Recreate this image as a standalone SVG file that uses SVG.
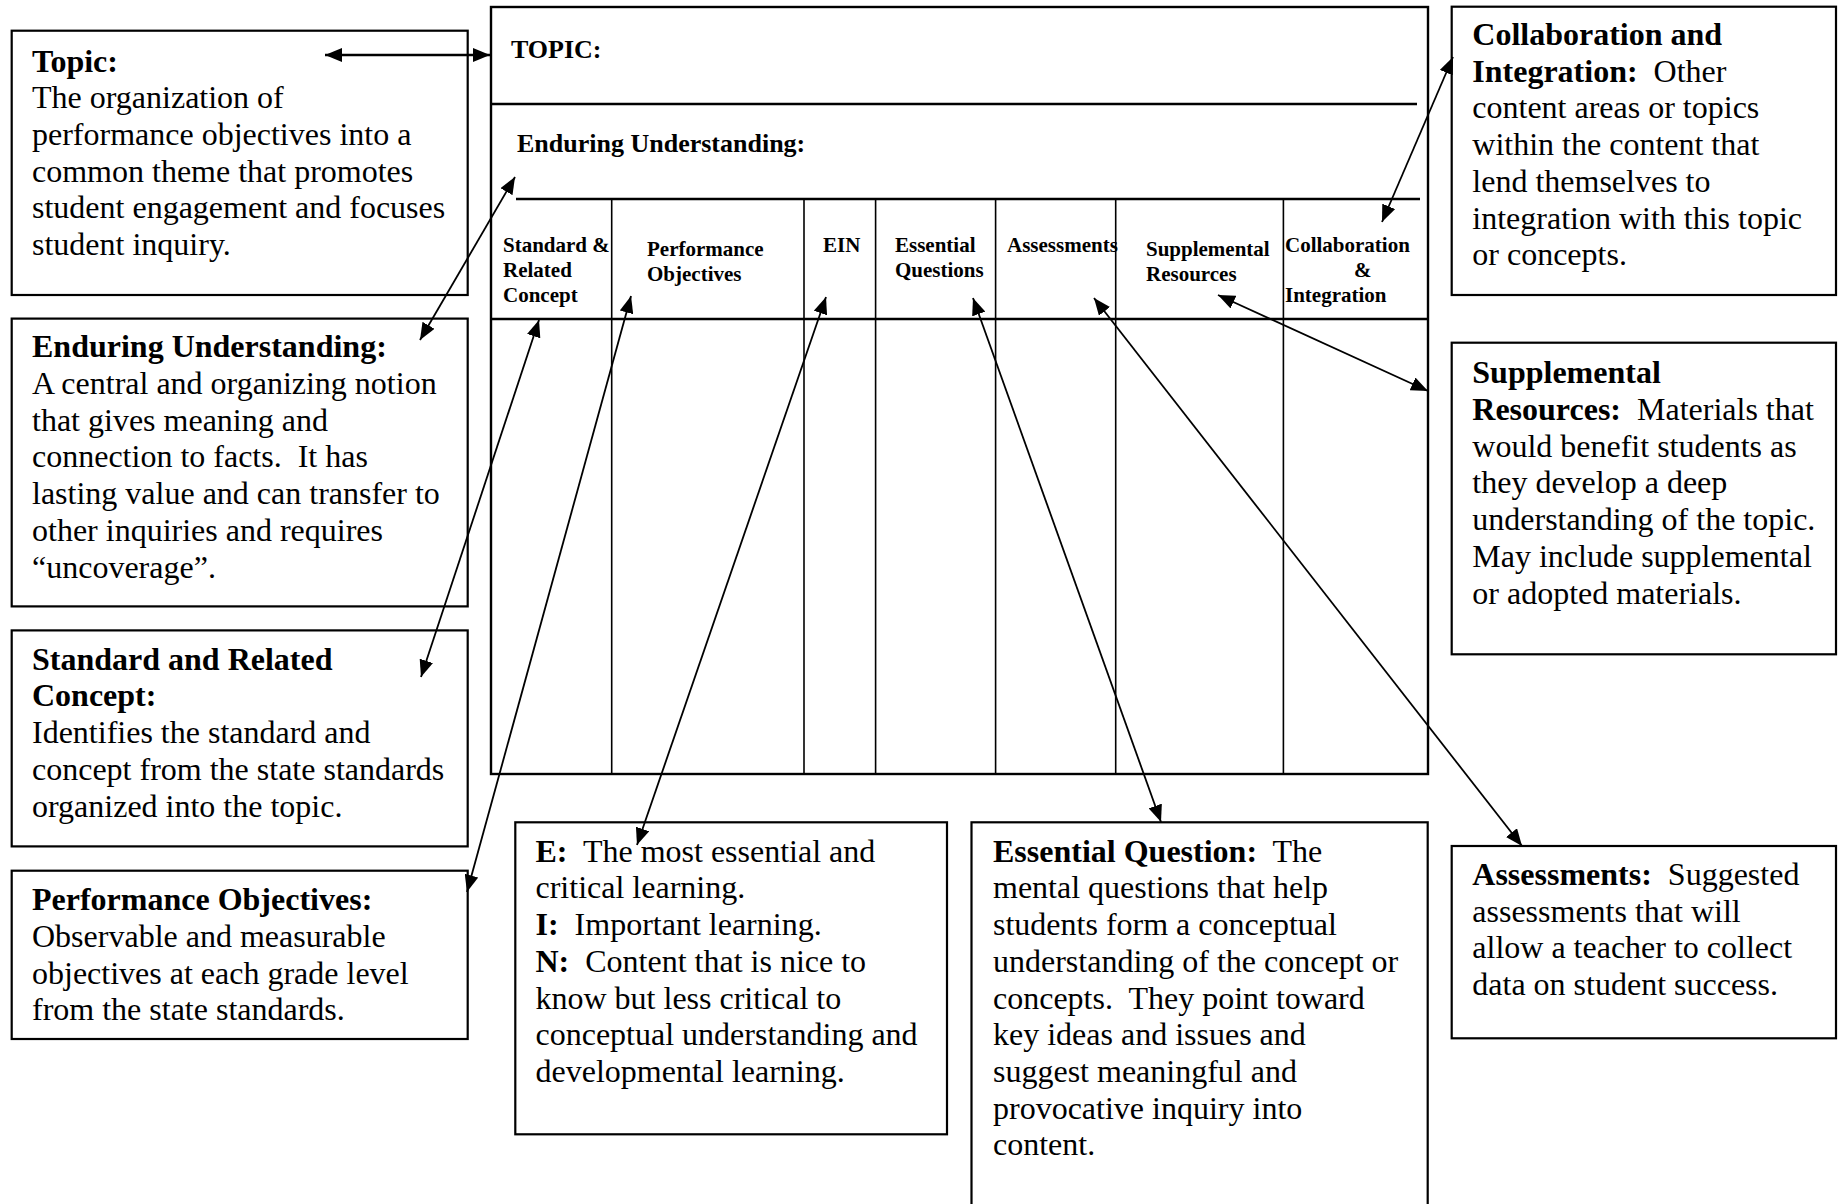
<svg xmlns="http://www.w3.org/2000/svg" width="1841" height="1204" viewBox="0 0 1841 1204">
<style>
.box{fill:#fff;stroke:#000;stroke-width:2.2}
.tx{font-family:"Liberation Serif","Times New Roman",serif;font-size:32px;fill:#000;white-space:pre}
.bd{font-weight:bold}
.hd{font-family:"Liberation Serif","Times New Roman",serif;font-size:21px;font-weight:bold;fill:#000;white-space:pre}
.ht{font-family:"Liberation Serif","Times New Roman",serif;font-size:26px;font-weight:bold;fill:#000}
.tl{stroke:#000;fill:none;stroke-width:2.4}
.cd{stroke:#000;fill:none;stroke-width:1.6}
.ar{stroke:#000;stroke-width:1.8;fill:none;marker-start:url(#ah);marker-end:url(#ah)}
</style>
<defs>
<marker id="ah" viewBox="0 0 17 14" refX="17" refY="7" markerWidth="17" markerHeight="14" markerUnits="userSpaceOnUse" orient="auto-start-reverse"><path d="M0,0L17,7L0,14z" fill="#000"/></marker>
</defs>
<rect width="1841" height="1204" fill="#fff"/>

<g id="table">
<rect x="491" y="7" width="937" height="767" fill="#fff" stroke="#000" stroke-width="2.4"/>
<line class="tl" x1="491" y1="104" x2="1417" y2="104"/>
<line class="tl" x1="516" y1="199" x2="1420" y2="199"/>
<line class="tl" x1="491" y1="319" x2="1428" y2="319"/>
<line class="cd" x1="611.7" y1="199" x2="611.7" y2="774"/>
<line class="cd" x1="804" y1="199" x2="804" y2="774"/>
<line class="cd" x1="875.6" y1="199" x2="875.6" y2="774"/>
<line class="cd" x1="995.6" y1="199" x2="995.6" y2="774"/>
<line class="cd" x1="1115.7" y1="199" x2="1115.7" y2="774"/>
<line class="cd" x1="1283.4" y1="199" x2="1283.4" y2="774"/>
<text class="ht" x="511" y="58">TOPIC:</text>
<text class="ht" x="517" y="152">Enduring Understanding:</text>
<text class="hd" x="503" y="252">Standard &amp;</text>
<text class="hd" x="503" y="277">Related</text>
<text class="hd" x="503" y="302">Concept</text>
<text class="hd" x="647" y="256">Performance</text>
<text class="hd" x="647" y="281">Objectives</text>
<text class="hd" x="823" y="252">EIN</text>
<text class="hd" x="895" y="252">Essential</text>
<text class="hd" x="895" y="277">Questions</text>
<text class="hd" x="1007" y="252">Assessments</text>
<text class="hd" x="1146" y="256">Supplemental</text>
<text class="hd" x="1146" y="281">Resources</text>
<text class="hd" x="1285" y="252">Collaboration</text>
<text class="hd" x="1354" y="277">&amp;</text>
<text class="hd" x="1285" y="302">Integration</text>
</g>

<g id="topic">
<rect class="box" x="11.7" y="30.7" width="456" height="264.3"/>
<text class="tx bd" x="32" y="71.7">Topic:</text>
<text class="tx" x="32" y="108.3">The organization of</text>
<text class="tx" x="32" y="144.9">performance objectives into a</text>
<text class="tx" x="32" y="181.5">common theme that promotes</text>
<text class="tx" x="32" y="218.1">student engagement and focuses</text>
<text class="tx" x="32" y="254.7">student inquiry.</text>
</g>

<g id="enduring">
<rect class="box" x="11.7" y="318.6" width="456" height="287.8"/>
<text class="tx bd" x="32" y="357">Enduring Understanding:</text>
<text class="tx" x="32" y="393.8">A central and organizing notion</text>
<text class="tx" x="32" y="430.6">that gives meaning and</text>
<text class="tx" x="32" y="467.4">connection to facts.  It has</text>
<text class="tx" x="32" y="504.2">lasting value and can transfer to</text>
<text class="tx" x="32" y="541">other inquiries and requires</text>
<text class="tx" x="32" y="577.8">“uncoverage”.</text>
</g>

<g id="standard">
<rect class="box" x="11.7" y="630.4" width="456" height="216"/>
<text class="tx bd" x="32" y="669.5">Standard and Related</text>
<text class="tx bd" x="32" y="706.3">Concept:</text>
<text class="tx" x="32" y="743.1">Identifies the standard and</text>
<text class="tx" x="32" y="779.9">concept from the state standards</text>
<text class="tx" x="32" y="816.7">organized into the topic.</text>
</g>

<g id="performance">
<rect class="box" x="11.7" y="870.7" width="456" height="168.3"/>
<text class="tx bd" x="32" y="910">Performance Objectives:</text>
<text class="tx" x="32" y="946.8">Observable and measurable</text>
<text class="tx" x="32" y="983.6">objectives at each grade level</text>
<text class="tx" x="32" y="1020.4">from the state standards.</text>
</g>

<g id="ein">
<rect class="box" x="515.3" y="822.3" width="431.7" height="312"/>
<text class="tx" x="535.5" y="861.7"><tspan class="bd">E:</tspan>  The most essential and</text>
<text class="tx" x="535.5" y="898.4">critical learning.</text>
<text class="tx" x="535.5" y="935.1"><tspan class="bd">I:</tspan>  Important learning.</text>
<text class="tx" x="535.5" y="971.8"><tspan class="bd">N:</tspan>  Content that is nice to</text>
<text class="tx" x="535.5" y="1008.5">know but less critical to</text>
<text class="tx" x="535.5" y="1045.2">conceptual understanding and</text>
<text class="tx" x="535.5" y="1081.9">developmental learning.</text>
</g>

<g id="essential">
<rect class="box" x="971.5" y="822.3" width="456.2" height="400"/>
<text class="tx" x="993" y="861.7"><tspan class="bd">Essential Question:</tspan>  The</text>
<text class="tx" x="993" y="898.4">mental questions that help</text>
<text class="tx" x="993" y="935.1">students form a conceptual</text>
<text class="tx" x="993" y="971.8">understanding of the concept or</text>
<text class="tx" x="993" y="1008.5">concepts.  They point toward</text>
<text class="tx" x="993" y="1045.2">key ideas and issues and</text>
<text class="tx" x="993" y="1081.9">suggest meaningful and</text>
<text class="tx" x="993" y="1118.6">provocative inquiry into</text>
<text class="tx" x="993" y="1155.3">content.</text>
</g>

<g id="collaboration">
<rect class="box" x="1451.7" y="6.7" width="384.3" height="288.3"/>
<text class="tx bd" x="1472.3" y="45">Collaboration and</text>
<text class="tx" x="1472.3" y="81.7"><tspan class="bd">Integration:</tspan>  Other</text>
<text class="tx" x="1472.3" y="118.4">content areas or topics</text>
<text class="tx" x="1472.3" y="155.1">within the content that</text>
<text class="tx" x="1472.3" y="191.8">lend themselves to</text>
<text class="tx" x="1472.3" y="228.5">integration with this topic</text>
<text class="tx" x="1472.3" y="265.2">or concepts.</text>
</g>

<g id="supplemental">
<rect class="box" x="1451.7" y="342.7" width="384.3" height="311.6"/>
<text class="tx bd" x="1472.3" y="383.3">Supplemental</text>
<text class="tx" x="1472.3" y="420"><tspan class="bd">Resources:</tspan>  Materials that</text>
<text class="tx" x="1472.3" y="456.7">would benefit students as</text>
<text class="tx" x="1472.3" y="493.4">they develop a deep</text>
<text class="tx" x="1472.3" y="530.1">understanding of the topic.</text>
<text class="tx" x="1472.3" y="566.8">May include supplemental</text>
<text class="tx" x="1472.3" y="603.5">or adopted materials.</text>
</g>

<g id="assessments">
<rect class="box" x="1451.7" y="846" width="384.3" height="192.3"/>
<text class="tx" x="1472.3" y="885"><tspan class="bd">Assessments:</tspan>  Suggested</text>
<text class="tx" x="1472.3" y="921.7">assessments that will</text>
<text class="tx" x="1472.3" y="958.4">allow a teacher to collect</text>
<text class="tx" x="1472.3" y="995.1">data on student success.</text>
</g>

<g id="connectors">
<line class="ar" x1="325" y1="55" x2="490" y2="55" style="stroke-width:2.4"/>
<line class="ar" x1="515" y1="177" x2="420" y2="340"/>
<line class="ar" x1="539" y1="320" x2="421" y2="677"/>
<line class="ar" x1="631" y1="296" x2="467" y2="892"/>
<line class="ar" x1="826" y1="297" x2="637" y2="845"/>
<line class="ar" x1="973" y1="298" x2="1161" y2="822"/>
<line class="ar" x1="1094" y1="298" x2="1522" y2="846"/>
<line class="ar" x1="1218" y1="295" x2="1428" y2="391"/>
<line class="ar" x1="1453" y1="57" x2="1382" y2="222"/>
</g>
</svg>
